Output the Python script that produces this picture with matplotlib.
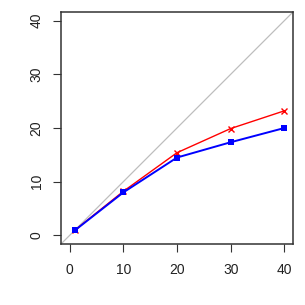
import matplotlib
matplotlib.use('Agg')
import matplotlib.pyplot as plt

# values
x_vals = [1, 10, 20, 30, 40]
red_vals = [1.0, 8.2, 15.4, 19.9, 23.2]
blue_vals = [0.95, 8.0, 14.5, 17.35, 20.0]
ticks = [0, 10, 20, 30, 40]

plt.rcParams['font.family'] = ['Liberation Sans', 'DejaVu Sans']

fig = plt.figure(figsize=(3.05, 3.05), dpi=100)
ax = fig.add_axes([0.2, 0.2, 0.7607, 0.7607])

ax.axline((0, 0), slope=1, color='#BEBEBE', lw=0.9, zorder=1)
ax.plot(x_vals, red_vals, '-', color='#FF0000', lw=1.0, marker='x',
        markersize=5, markeredgewidth=1.0, zorder=2)
ax.plot(x_vals, blue_vals, '-', color='#0000FF', lw=1.4, marker='s',
        markersize=4.8, markeredgewidth=0, zorder=3)

ax.set_xlim(-1.6, 41.6)
ax.set_ylim(-1.6, 41.6)
ax.set_xticks(ticks)
ax.set_yticks(ticks)
ax.tick_params(axis='both', length=5.5, width=0.8, color='#333333',
               labelsize=10, labelcolor='#222222')
ax.tick_params(axis='x', pad=8)
ax.tick_params(axis='y', pad=7)
for lbl in ax.get_yticklabels():
    lbl.set_rotation(90)
    lbl.set_va('center')
for sp in ax.spines.values():
    sp.set_linewidth(1.1)
    sp.set_color('#333333')

fig.savefig('out.png', dpi=100)
